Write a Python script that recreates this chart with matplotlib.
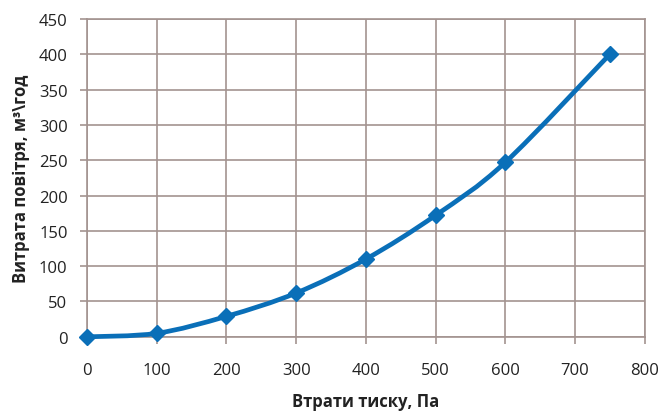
import matplotlib
matplotlib.use("Agg")
import matplotlib.pyplot as plt
from matplotlib.path import Path
from matplotlib.patches import PathPatch

# pressure loss (Pa) vs air flow (m3/h)
pressure = [0, 100, 200, 300, 400, 500, 600, 750]
flow = [0, 5, 29, 62, 110, 172, 247, 400]

x_ticks = [0, 100, 200, 300, 400, 500, 600, 700, 800]
y_ticks = [0, 50, 100, 150, 200, 250, 300, 350, 400, 450]

grid_color = '#a39390'
line_color = '#0a6fb8'

plt.rcParams['font.family'] = ['Open Sans', 'DejaVu Sans']


def smooth_path(xs, ys):
    """Excel-like smoothed line: cubic Bezier through every point."""
    verts = [(xs[0], ys[0])]
    codes = [Path.MOVETO]
    n = len(xs)
    for i in range(n - 1):
        x0, y0 = (xs[i - 1], ys[i - 1]) if i > 0 else (xs[i], ys[i])
        x1, y1 = xs[i], ys[i]
        x2, y2 = xs[i + 1], ys[i + 1]
        x3, y3 = (xs[i + 2], ys[i + 2]) if i + 2 < n else (x2, y2)
        c1 = (x1 + (x2 - x0) / 6, y1 + (y2 - y0) / 6)
        c2 = (x2 - (x3 - x1) / 6, y2 - (y3 - y1) / 6)
        verts += [c1, c2, (x2, y2)]
        codes += [Path.CURVE4] * 3
    return Path(verts, codes)


fig = plt.figure(figsize=(6.64, 4.14), dpi=100)
ax = fig.add_axes([0.131, 0.184, 0.840, 0.768])

curve = PathPatch(smooth_path(pressure, flow), facecolor='none',
                  edgecolor=line_color, linewidth=3.4, capstyle='round',
                  zorder=3, clip_on=False)
ax.add_patch(curve)
ax.plot(pressure, flow, linestyle='none', marker='D', markersize=8,
        markerfacecolor=line_color, markeredgecolor=line_color,
        zorder=4, clip_on=False)

ax.set_xlim(0, 800)
ax.set_ylim(0, 450)
ax.set_xticks(x_ticks)
ax.set_yticks(y_ticks)
ax.grid(True, color=grid_color, linewidth=1.2)
ax.set_axisbelow(True)

for s in ax.spines.values():
    s.set_color(grid_color)
    s.set_linewidth(1.2)

ax.tick_params(axis='both', colors=grid_color, labelcolor='#222222',
               labelsize=12, length=5, width=1.2)
ax.tick_params(axis='x', pad=13)
ax.tick_params(axis='y', pad=9)

ax.set_xlabel('Втрати тиску, Па', fontsize=12, fontweight='bold',
              color='#222222', labelpad=10)
ax.set_ylabel('Витрата повітря, м³\\год', fontsize=12, fontweight='bold',
              color='#222222', labelpad=6)

fig.savefig('out.png', dpi=100, facecolor='white')
